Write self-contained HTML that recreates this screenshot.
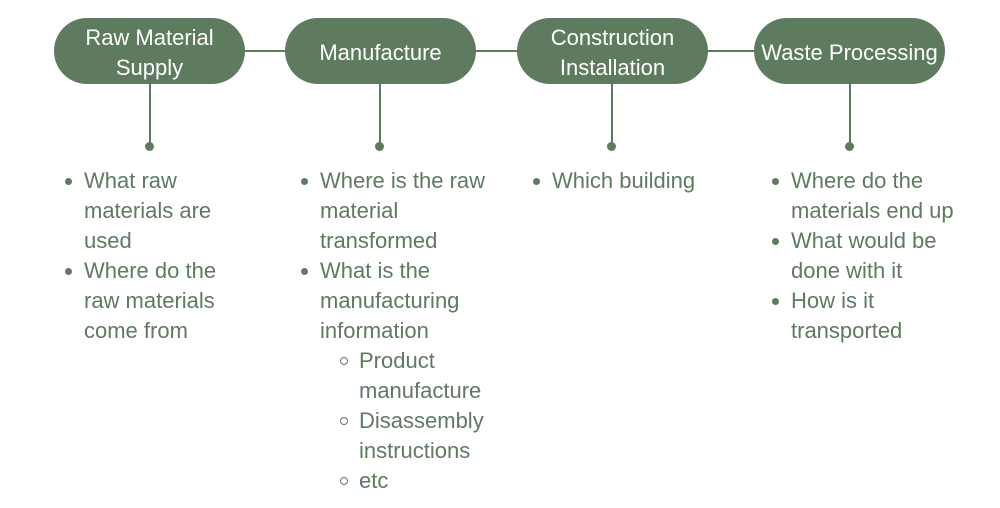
<!DOCTYPE html>
<html><head><style>
body{margin:0;width:1000px;height:508px;background:#fff;position:relative;font-family:"Liberation Sans",sans-serif;overflow:hidden}
.pill{position:absolute;top:18px;height:66px;width:191px;border-radius:33px;background:#5e7a5f;color:#fff;font-size:22px;line-height:30px;display:flex;align-items:center;justify-content:center;text-align:center;box-sizing:border-box;padding-top:3px}
.h{position:absolute;top:50px;height:2px;background:#5e7a5f}
.v{position:absolute;top:84px;width:2px;height:62px;background:#5e7a5f}
.d{position:absolute;top:142px;width:9px;height:9px;border-radius:50%;background:#5e7a5f}
.t{position:absolute;top:166px;color:#5e7a5f;font-size:22px;line-height:30px}
.t div{position:relative;padding-left:19px}
.t div.b::before{content:"";position:absolute;left:0;top:12px;width:7px;height:7px;border-radius:50%;background:#5e7a5f}
.t div.s{padding-left:58px}
.t div.s::before{content:"";position:absolute;left:39px;top:11px;width:6px;height:6px;border-radius:50%;border:1.5px solid #5e7a5f}
</style></head><body>
<div class="h" style="left:240px;width:50px"></div>
<div class="h" style="left:470px;width:52px"></div>
<div class="h" style="left:703px;width:56px"></div>
<div class="pill" style="left:54px">Raw Material<br>Supply</div>
<div class="pill" style="left:285px">Manufacture</div>
<div class="pill" style="left:517px">Construction<br>Installation</div>
<div class="pill" style="left:754px">Waste Processing</div>
<div class="v" style="left:149px"></div><div class="d" style="left:145px"></div>
<div class="v" style="left:379px"></div><div class="d" style="left:375px"></div>
<div class="v" style="left:611px"></div><div class="d" style="left:607px"></div>
<div class="v" style="left:849px"></div><div class="d" style="left:845px"></div>
<div class="t" style="left:65px;width:180px">
<div class="b">What raw materials are used</div>
<div class="b">Where do the raw materials come from</div>
</div>
<div class="t" style="left:301px;width:210px">
<div class="b">Where is the raw material transformed</div>
<div class="b">What is the manufacturing information</div>
<div class="s">Product manufacture</div>
<div class="s">Disassembly instructions</div>
<div class="s">etc</div>
</div>
<div class="t" style="left:533px;width:200px">
<div class="b">Which building</div>
</div>
<div class="t" style="left:772px;width:200px">
<div class="b">Where do the materials end up</div>
<div class="b">What would be done with it</div>
<div class="b">How is it transported</div>
</div>
</body></html>
